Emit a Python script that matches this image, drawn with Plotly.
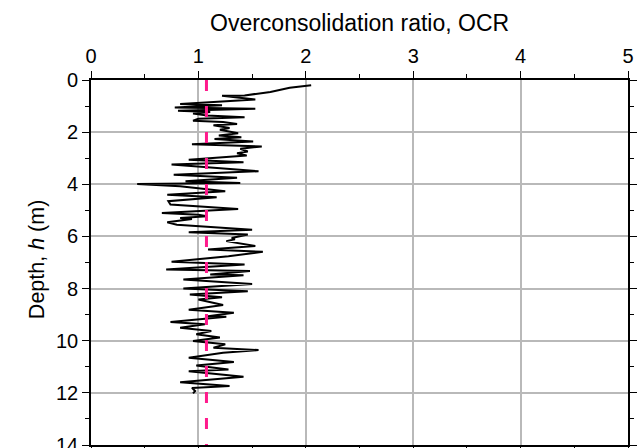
import plotly.graph_objects as go

depth = [0.20, 0.30, 0.46, 0.59, 0.60, 0.75, 0.92, 0.97, 1.05, 1.10, 1.18, 1.23, 1.29, 1.36,
         1.43, 1.49, 1.56, 1.61, 1.69, 1.74, 1.84, 1.91, 2.04, 2.13, 2.20, 2.26, 2.36, 2.46,
         2.55, 2.64, 2.74, 2.81, 2.90, 3.06, 3.15, 3.24, 3.50, 3.63, 3.75, 3.88, 3.95, 3.99,
         4.08, 4.27, 4.40, 4.50, 4.65, 4.78, 4.95, 5.10, 5.17, 5.23, 5.29, 5.33, 5.46, 5.55,
         5.74, 5.84, 5.93, 6.06, 6.11, 6.18, 6.37, 6.50, 6.59, 6.76, 6.97, 7.08, 7.27, 7.33,
         7.46, 7.49, 7.65, 7.82, 8.00, 8.10, 8.23, 8.33, 8.42, 8.55, 8.63, 8.81, 8.93, 9.06,
         9.08, 9.28, 9.37, 9.50, 9.63, 9.75, 9.88, 10.01, 10.14, 10.27, 10.36, 10.46, 10.65,
         10.82, 10.95, 11.10, 11.17, 11.38, 11.59, 11.74, 11.81, 11.93, 12.02]
ocr = [2.05, 1.85, 1.67, 1.43, 1.22, 1.53, 0.83, 1.22, 0.78, 1.53, 0.81, 1.11, 0.95, 1.08,
       1.43, 1.00, 0.95, 1.23, 1.36, 1.14, 1.29, 1.20, 1.37, 1.19, 1.40, 1.15, 1.51, 0.94,
       1.59, 1.39, 1.46, 1.36, 1.45, 0.91, 1.42, 0.75, 1.56, 0.77, 1.36, 0.88, 1.39, 0.43,
       0.83, 1.25, 0.71, 1.17, 0.72, 0.74, 1.37, 0.66, 1.00, 1.08, 0.83, 0.94, 0.71, 0.80,
       1.50, 0.91, 1.46, 1.31, 1.34, 1.26, 1.53, 1.09, 1.60, 1.28, 0.75, 1.43, 0.70, 1.48,
       1.11, 1.42, 0.86, 1.50, 0.86, 1.46, 0.92, 1.22, 1.00, 1.14, 1.23, 0.91, 1.33, 1.09,
       1.26, 0.74, 1.06, 0.83, 1.12, 0.98, 1.20, 0.95, 1.25, 1.14, 1.56, 1.23, 0.91,
       1.33, 0.98, 1.28, 0.91, 1.42, 0.83, 1.29, 0.94, 0.97, 0.95]

# Reference (average) OCR line
ref_ocr = [1.075, 1.075]
ref_depth = [0.0, 14.0]

x_title = "Overconsolidation ratio, OCR"
y_title = "Depth, <i>h</i> (m)"

FONT = "Liberation Sans, Arial, sans-serif"

fig = go.Figure()
fig.add_trace(go.Scatter(x=ocr, y=depth, mode="lines",
                         line=dict(color="black", width=2), showlegend=False))
fig.add_trace(go.Scatter(x=ref_ocr, y=ref_depth, mode="lines",
                         line=dict(color="#ff1a8c", width=3, dash="11px,15px"),
                         showlegend=False))

axis_common = dict(
    showline=True, linecolor="black", linewidth=1.6, mirror="allticks",
    ticks="outside", ticklen=7, tickwidth=1.4, tickcolor="black",
    showgrid=True, gridcolor="#b9b9b9", gridwidth=1.5,
    zeroline=False, automargin=False, ticklabeloverflow="allow",
    tickfont=dict(family=FONT, size=20, color="black"),
)

fig.update_xaxes(range=[0, 5], side="top", dtick=1, tick0=0,
                 minor=dict(dtick=0.5, ticklen=4, tickwidth=1.4, tickcolor="black", ticks="outside", showgrid=False),
                 **axis_common)
fig.update_yaxes(range=[14, 0], dtick=2, tick0=0,
                 minor=dict(dtick=1, ticklen=4, tickwidth=1.4, tickcolor="black", ticks="outside", showgrid=False),
                 **axis_common)

fig.add_annotation(text=x_title, xref="paper", yref="paper", x=0.5, y=1.156,
                   xanchor="center", yanchor="middle", showarrow=False,
                   font=dict(family=FONT, size=23, color="black"))
fig.add_annotation(text=y_title, xref="paper", yref="paper", x=-0.1, y=0.51,
                   xanchor="center", yanchor="middle", showarrow=False, textangle=-90,
                   font=dict(family=FONT, size=21.5, color="black"))

fig.update_layout(
    width=644, height=448,
    margin=dict(l=91, r=16, t=80, b=3),
    paper_bgcolor="white", plot_bgcolor="white",
    font=dict(family=FONT, color="black"),
)

fig.write_html("out.html")
